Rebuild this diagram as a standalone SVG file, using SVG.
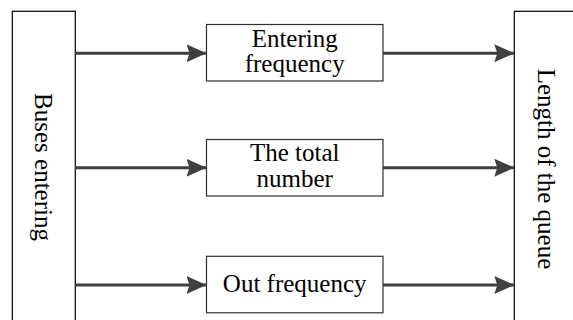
<svg xmlns="http://www.w3.org/2000/svg" width="573" height="320" viewBox="0 0 573 320">
  <style>
    .box { fill: #ffffff; stroke: #000000; stroke-width: 1.2; }
    .mid { fill: #ffffff; stroke: #303030; stroke-width: 1.2; }
    .label { font-family: "Liberation Serif", "Times New Roman", serif; font-size: 25px; fill: #000000; text-anchor: middle; }
    .link { stroke: #404040; stroke-width: 3; fill: none; marker-end: url(#head); }
  </style>
  <defs>
    <marker id="head" markerUnits="userSpaceOnUse" markerWidth="20" markerHeight="20" viewBox="0 0 20 20" refX="20" refY="10" orient="auto">
      <path d="M0,1 L20,10 L0,19 L3,10 Z" fill="#404040"/>
    </marker>
  </defs>
  <rect width="573" height="320" fill="#ffffff"/>

  <g id="buses-entering">
    <rect class="box" x="12.3" y="11.3" width="63" height="320"/>
    <text class="label" transform="translate(35,167) rotate(90)">Buses entering</text>
  </g>

  <g id="queue-length">
    <rect class="box" x="514.3" y="11.3" width="80" height="320"/>
    <text class="label" transform="translate(538,169) rotate(90)">Length of the queue</text>
  </g>

  <g id="entering-frequency">
    <rect class="mid" x="206.5" y="24.5" width="176.5" height="56.5"/>
    <text class="label" x="294.7" y="47">Entering</text>
    <text class="label" x="294.7" y="72">frequency</text>
  </g>

  <g id="total-number">
    <rect class="mid" x="206.5" y="139.5" width="176.5" height="56.5"/>
    <text class="label" x="294.7" y="160.5">The total</text>
    <text class="label" x="294.7" y="187">number</text>
  </g>

  <g id="out-frequency">
    <rect class="mid" x="206.5" y="256.3" width="176.5" height="56.5"/>
    <text class="label" x="294.7" y="292">Out frequency</text>
  </g>

  <g id="connectors">
    <line class="link" x1="75.3" y1="53.3" x2="206.5" y2="53.3"/>
    <line class="link" x1="75.3" y1="167.7" x2="206.5" y2="167.7"/>
    <line class="link" x1="75.3" y1="285" x2="206.5" y2="285"/>
    <line class="link" x1="383" y1="53.3" x2="514.3" y2="53.3"/>
    <line class="link" x1="383" y1="167.7" x2="514.3" y2="167.7"/>
    <line class="link" x1="383" y1="285" x2="514.3" y2="285"/>
  </g>
</svg>
